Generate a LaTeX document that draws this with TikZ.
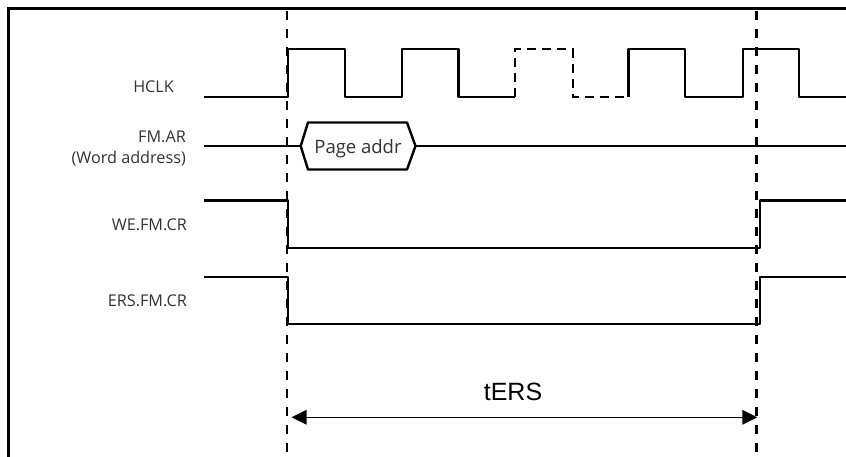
\documentclass[tikz,border=0pt]{standalone}
\usepackage{fontspec}
\setmainfont{Open Sans}
\newfontfamily\arialfont{Liberation Sans}
\usetikzlibrary{arrows.meta}
\definecolor{labelgray}{RGB}{50,50,50}
\tikzset{
  sig/.style={line width=2.4pt, line join=round},
  sigdash/.style={line width=2.4pt, dash pattern=on 9pt off 6pt},
  guide/.style={line width=2.5pt, dash pattern=on 9pt off 9pt},
  frameline/.style={line width=2.4pt},
  siglabel/.style={anchor=base east, inner sep=0pt, text=labelgray, font=\fontsize{16.2}{19}\selectfont},
  dim/.style={line width=1.4pt, {Triangle[length=15pt,width=14.5pt]}-{Triangle[length=15pt,width=14.5pt]}}
}
\begin{document}
\begin{tikzpicture}[x=1pt,y=-1pt]
\useasboundingbox (0,0) rectangle (846,457);
% frame
\draw[frameline] (8.5,457) -- (8.5,8.5) -- (846,8.5);
% labels
\node[siglabel] (lhclk) at (174,92.3) {HCLK};
\node[siglabel] (lfmar) at (186,142.3) {FM.AR};
\node[siglabel] (lword) at (186,164) {(Word address)};
\node[siglabel] (lwe) at (187,230.7) {WE.FM.CR};
\node[siglabel] (lers) at (187,306.7) {ERS.FM.CR};
% guides
\coordinate (g1t) at (287,11);
\coordinate (g1b) at (287,457);
\coordinate (g2t) at (756.5,11);
\coordinate (g2b) at (756.5,457);
\draw[guide] (g1t) -- (g1b);
\draw[guide] (g2t) -- (g2b);
% HCLK
\draw[sig] (204,97) -- (288,97) -- (288,49.3) -- (345,49.3) -- (345,97) -- (401.7,97) -- (401.7,49.3) -- (458.3,49.3) -- (458.3,97) -- (515,97);
\draw[sigdash] (515,97) -- (515,49.3) -- (572.7,49.3) -- (572.7,97) -- (628.3,97);
\draw[sig] (628.3,97) -- (628.3,49.3) -- (685,49.3) -- (685,97) -- (742.7,97) -- (742.7,49.3) -- (799,49.3) -- (799,97) -- (846,97);
% FM.AR
\node[inner sep=0pt, text=labelgray, font=\fontsize{18.5}{22}\selectfont, anchor=base] (pa) at (358,153.3) {Page addr};
\coordinate (hl) at (300.7,146);
\coordinate (hr) at (415.5,146);
\draw[sig] (204,146) -- (hl);
\draw[sig] (hl) -- (308,122.5) -- (407,122.5) -- (hr) -- (407,169.5) -- (308,169.5) -- cycle;
\draw[sig] (hr) -- (846,146);
% WE.FM.CR
\draw[sig] (204,200.5) -- (288,200.5) -- (288,248.3) -- (760,248.3) -- (760,200.5) -- (846,200.5);
% ERS.FM.CR
\draw[sig] (204,276.7) -- (288,276.7) -- (288,324) -- (760,324) -- (760,276.7) -- (846,276.7);
% tERS
\coordinate (al) at (291.5,417.3);
\coordinate (ar) at (757.3,417.3);
\draw[dim] (al) -- (ar);
\node[inner sep=0pt, anchor=base, font=\arialfont\fontsize{25}{30}\selectfont] (ters) at (513,400.7) {tERS};
\end{tikzpicture}
\end{document}
